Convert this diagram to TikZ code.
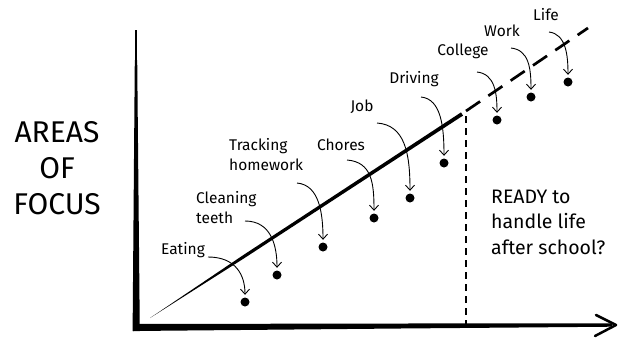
\documentclass[tikz,border=0pt]{standalone}
\usepackage{fontspec}
\setmainfont{Fira Sans}
\usetikzlibrary{arrows.meta}
\tikzset{
  lbl/.style={inner sep=0pt, font=\fontsize{15.5}{20}\selectfont, align=left},
  dotnode/.style={circle, fill=black, inner sep=0pt, minimum size=9pt},
  curvearrow/.style={line width=0.9pt, -{Straight Barb[length=5pt,width=9pt,line width=0.9pt]}, shorten >=2.5pt},
}
\begin{document}
\begin{tikzpicture}[x=1pt,y=-1pt]
\useasboundingbox (0,0) rectangle (626,338);
% axes
\coordinate (otop) at (136,30);
\coordinate (omid) at (136,70);
\coordinate (origin) at (136,328);
\coordinate (xend) at (616,325);
\draw[line width=1.5pt] (otop) -- (omid);
\fill (134.8,60) -- (137.2,60) -- (139.8,331) -- (132.6,331) -- cycle;
\fill (133,324) -- (400,323.5) -- (612,323.3) -- (612,326.7) -- (400,328.5) -- (133,331) -- cycle;
\draw[line width=2.5pt, line cap=round, line join=round] (xend) ++(-20,-10) -- (xend) -- ++(-21,11);
% main diagonal (tapered)
\coordinate (dstart) at (150,318);
\coordinate (dend) at (462,114);
\fill (dstart) -- (244.4,258.1) -- (463.0,115.6) -- (461.0,112.4) -- (242.8,255.4) -- cycle;
% dashed continuation
\coordinate (dashend) at (588,28);
\draw[line width=2.7pt, dash pattern=on 17pt off 10pt] (466,111) -- (dashend);
% dashed vertical
\coordinate (vtop) at (466,116);
\coordinate (vbot) at (466,324);
\draw[line width=2.5pt, dash pattern=on 7pt off 5pt] (vtop) -- (vbot);
% left text
\node[inner sep=0pt, align=center, font=\fontsize{30}{36}\selectfont] (areas) at (57,168) {AREAS\\OF\\FOCUS};
% right text
\node[inner sep=0pt, align=left, anchor=west, font=\fontsize{19.5}{25.5}\selectfont] (ready) at (491,222) {READY to\\handle life\\after school?};
% labels
\node[lbl] (eating) at (183,250) {Eating};
\node[lbl, anchor=west] (cleaning) at (196,208) {Cleaning\\teeth};
\node[lbl, anchor=west] (tracking) at (229,155) {Tracking\\homework};
\node[lbl] (chores) at (341,145) {Chores};
\node[lbl] (job) at (362,107) {Job};
\node[lbl] (driving) at (414,79) {Driving};
\node[lbl] (college) at (463,51) {College};
\node[lbl] (work) at (502,31) {Work};
\node[lbl] (life) at (546,15) {Life};
% dots
\node[dotnode] (d1) at (245,302) {};
\node[dotnode] (d2) at (277,275) {};
\node[dotnode] (d3) at (323,247) {};
\node[dotnode] (d4) at (374,218) {};
\node[dotnode] (d5) at (410,198) {};
\node[dotnode] (d6) at (444,163) {};
\node[dotnode] (d7) at (497,120) {};
\node[dotnode] (d8) at (531,97) {};
\node[dotnode] (d9) at (568,82) {};
% arrow starts
\coordinate (s1) at (208,257);
\coordinate (s2) at (245,221);
\coordinate (s3) at (297,183);
\coordinate (s4) at (347,160);
\coordinate (s5) at (377,123);
\coordinate (s6) at (421,97);
\coordinate (s7) at (477,72);
\coordinate (s8) at (511,48);
\coordinate (s9) at (549,32);
\draw[curvearrow] (s1) .. controls +(28,0) and +(0,-22) .. (d1.north);
\draw[curvearrow] (s2) .. controls +(26,0) and +(0,-25) .. (d2.north);
\draw[curvearrow] (s3) .. controls +(22,2) and +(0,-30) .. (d3.north);
\draw[curvearrow] (s4) .. controls +(25,2) and +(0,-30) .. (d4.north);
\draw[curvearrow] (s5) .. controls +(28,2) and +(0,-40) .. (d5.north);
\draw[curvearrow] (s6) .. controls +(20,2) and +(0,-32) .. (d6.north);
\draw[curvearrow] (s7) .. controls +(18,2) and +(0,-22) .. (d7.north);
\draw[curvearrow] (s8) .. controls +(18,2) and +(0,-24) .. (d8.north);
\draw[curvearrow] (s9) .. controls +(17,2) and +(0,-22) .. (d9.north);
\end{tikzpicture}
\end{document}
